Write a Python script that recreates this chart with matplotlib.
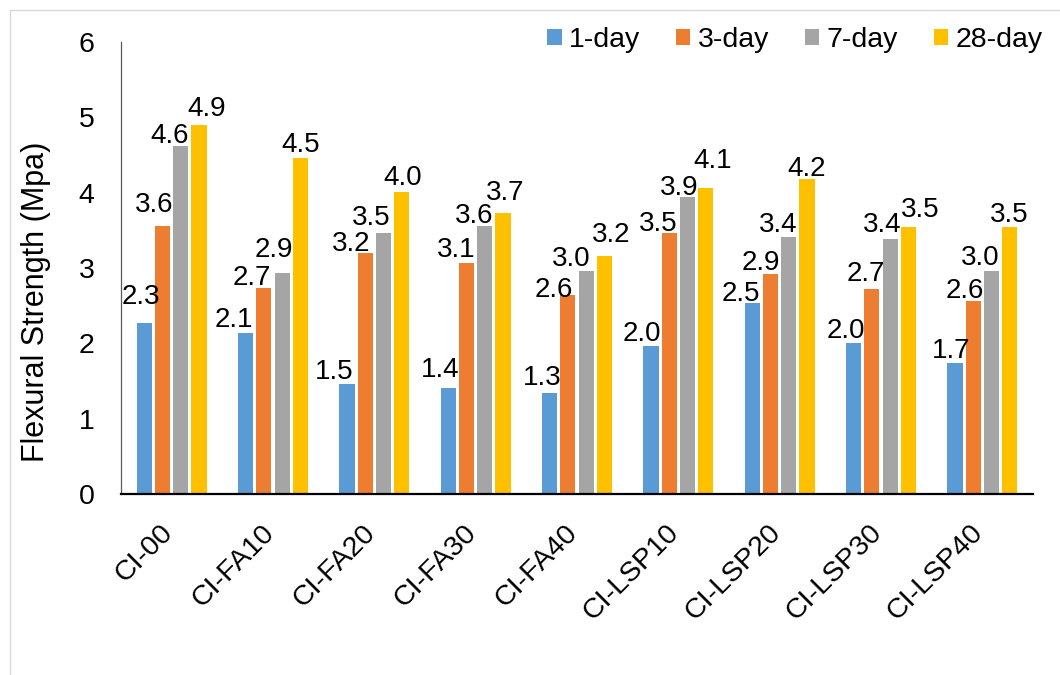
import matplotlib
matplotlib.use("Agg")
import matplotlib.pyplot as plt
import numpy as np
from matplotlib.patches import Rectangle
from matplotlib.transforms import ScaledTranslation

plt.rcParams['font.family'] = ['Liberation Sans', 'DejaVu Sans']

categories = ["CI-00", "CI-FA10", "CI-FA20", "CI-FA30", "CI-FA40",
              "CI-LSP10", "CI-LSP20", "CI-LSP30", "CI-LSP40"]
series_names = ["1-day", "3-day", "7-day", "28-day"]
day1 = [2.27, 2.14, 1.46, 1.41, 1.34, 1.96, 2.54, 2.01, 1.74]
day3 = [3.56, 2.74, 3.20, 3.06, 2.64, 3.47, 2.92, 2.72, 2.56]
day7 = [4.62, 2.93, 3.47, 3.56, 2.96, 3.94, 3.41, 3.39, 2.96]
day28 = [4.90, 4.46, 4.01, 3.73, 3.16, 4.06, 4.18, 3.54, 3.54]
colors = ["#5B9BD5", "#ED7D31", "#A5A5A5", "#FFC000"]

# hand-placed value labels: horizontal shift and lift above the bar (pixels)
label_dx = [
    [-3, -12, -13, -8, -7, -9, -11, -8, -4],
    [-8, -12, -14, -10, -14, -11, -10, -6, -8],
    [-11, -8, -12, -11, -15, -8, -11, -8, -11],
    [8, 0, 1, 2, 7, 7, 0, 12, 0],
]
label_dy = [
    [19, 6, 5, 11, 8, 5, 2, 5, 5],
    [14, 3, 2, 6, -2, 2, 4, 8, 3],
    [3, 16, 8, 3, 5, 2, 5, 7, 6],
    [9, 6, 7, 13, 14, 20, 3, 10, 5],
]

W, H = 1060, 675
fig = plt.figure(figsize=(W / 100, H / 100), dpi=100)
ax = fig.add_axes([121 / W, 1 - 494 / H, (1033 - 121) / W, (494 - 42) / H])

x = np.arange(len(categories))
slot = 0.18
width = 0.15
offsets = (np.arange(4) - 1.5) * slot
fs_val = 20
fs_tick = 20.5
px2pt = 72 / 100

all_series = [day1, day3, day7, day28]
for k, (vals, name, col, off) in enumerate(zip(all_series, series_names, colors, offsets)):
    bars = ax.bar(x + off, vals, width, color=col, label=name, zorder=2)
    for i, (b, v) in enumerate(zip(bars, vals)):
        ax.annotate(f"{v:.1f}", (b.get_x() + b.get_width() / 2, b.get_height()),
                    xytext=(label_dx[k][i] * px2pt, label_dy[k][i] * px2pt),
                    textcoords="offset points",
                    ha="center", va="baseline", fontsize=fs_val, color="black")

ax.set_xlim(-0.5, len(categories) - 0.5)
ax.set_ylim(0, 6)
ax.set_yticks(range(0, 7))
ax.tick_params(axis="y", length=0, pad=19, labelsize=fs_tick)
ax.tick_params(axis="x", length=0, pad=25, labelsize=fs_tick)
ax.set_xticks(x)
ax.set_xticklabels(categories, rotation=45, ha="right", va="center",
                   rotation_mode="anchor")
shift = ScaledTranslation(-3 / 100, 0, fig.dpi_scale_trans)
for lbl in ax.get_xticklabels():
    lbl.set_transform(lbl.get_transform() + shift)

for s in ["top", "right"]:
    ax.spines[s].set_visible(False)
ax.spines["left"].set_color("#595959")
ax.spines["left"].set_linewidth(0.9)
ax.spines["bottom"].set_color("black")
ax.spines["bottom"].set_linewidth(1.6)

fig.text(36 / W, 1 - 302 / H, "Flexural Strength (Mpa)", rotation=90,
         ha="center", va="center", fontsize=22)

ax.legend(loc="upper right", bbox_to_anchor=(1043 / W, 1 - 27 / H),
          bbox_transform=fig.transFigure, ncol=4, frameon=False,
          fontsize=fs_tick, handlelength=0.5, handleheight=0.5,
          handletextpad=0.27, columnspacing=1.25, borderaxespad=0,
          borderpad=0)

fig.add_artist(Rectangle((10 / W, -0.1), 1.2, 1 - 10 / H + 0.1,
                         transform=fig.transFigure, fill=False,
                         edgecolor="#D9D9D9", linewidth=1.0))

fig.savefig("out.png", dpi=100)
